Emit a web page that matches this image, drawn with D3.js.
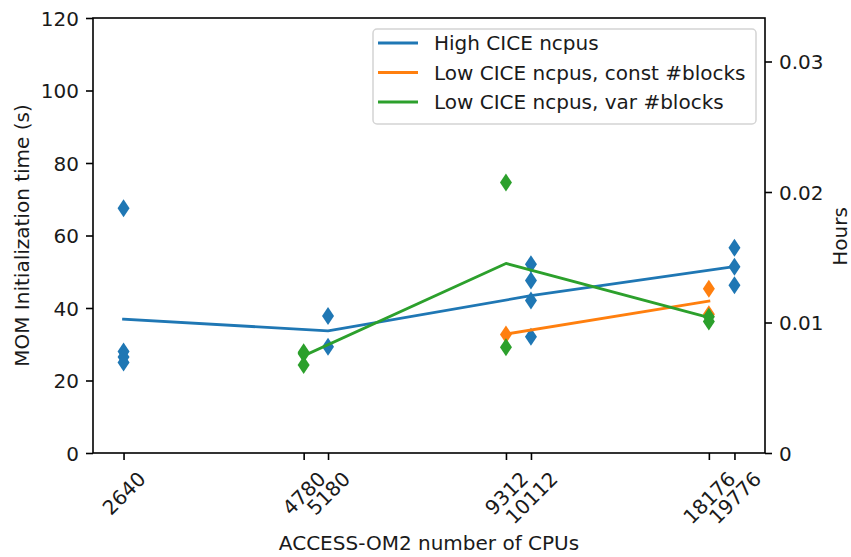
<!DOCTYPE html>
<html>
<head>
<meta charset="utf-8">
<script src="https://cdn.jsdelivr.net/npm/d3@7"></script>
<style>
  html, body { margin: 0; padding: 0; background: #fff; }
  svg { display: block; font-family: "DejaVu Sans", sans-serif; }
</style>
</head>
<body>
<svg id="chart" width="851" height="557"></svg>
<script>
// ---- data ----
const cpuTicks = [2640, 4780, 5180, 9312, 10112, 18176, 19776];
const yTicks = [0, 20, 40, 60, 80, 100, 120];
const hourTicks = [0, 0.01, 0.02, 0.03];
const hourTickLabels = ["0", "0.01", "0.02", "0.03"];

const seriesNames = ["High CICE ncpus", "Low CICE ncpus, const #blocks", "Low CICE ncpus, var #blocks"];
const seriesColors = ["#1f77b4", "#ff7f0e", "#2ca02c"];

const highX = [2640, 5180, 10112, 19776];
const highMean = [36.9, 33.7, 43.4, 51.4];
const highPts = [[67.5, 28.0, 26.5, 25.0], [37.8, 29.3], [52.1, 47.6, 42.1, 32.1], [56.6, 51.4, 46.3]];

const constX = [9312, 18176];
const constMean = [32.8, 41.9];
const constPts = [[32.7], [45.3, 38.3]];

const varX = [4780, 9312, 18176];
const varMean = [26.8, 52.3, 37.4];
const varPts = [[27.8, 27.4, 24.3], [74.6, 29.2], [37.6, 36.3]];

const series = [
  { name: seriesNames[0], color: seriesColors[0], x: highX, mean: highMean, pts: highPts },
  { name: seriesNames[1], color: seriesColors[1], x: constX, mean: constMean, pts: constPts },
  { name: seriesNames[2], color: seriesColors[2], x: varX, mean: varMean, pts: varPts }
];

// ---- layout ----
const L = 93, R = 765, T = 18, B = 453;
const FS = 20;
const svg = d3.select("#chart");

const lo = Math.log10(d3.min(cpuTicks)), hi = Math.log10(d3.max(cpuTicks));
const pad = (hi - lo) * 0.05;
const x = d3.scaleLog().domain([Math.pow(10, lo - pad), Math.pow(10, hi + pad)]).range([L, R]);
const y = d3.scaleLinear().domain([0, 120]).range([B, T]);
const yH = d3.scaleLinear().domain([0, 120 / 3600]).range([B, T]);

// ---- series ----
const line = d3.line().x(d => x(d[0])).y(d => y(d[1]));
const diamond = (cx, cy) => {
  const hw = 6, hh = 9;
  return `M${cx},${cy - hh}L${cx + hw},${cy}L${cx},${cy + hh}L${cx - hw},${cy}Z`;
};
series.forEach(s => {
  svg.append("path")
    .attr("d", line(s.x.map((v, i) => [v, s.mean[i]])))
    .attr("fill", "none").attr("stroke", s.color).attr("stroke-width", 2.8)
    .attr("stroke-linejoin", "round").attr("stroke-linecap", "square");
  const pts = [];
  s.x.forEach((v, i) => s.pts[i].forEach(p => pts.push([v, p])));
  svg.append("g").selectAll("path").data(pts).join("path")
    .attr("d", d => diamond(x(d[0]), y(d[1])))
    .attr("fill", s.color);
});

// ---- axes ----
const xAxis = d3.axisBottom(x).tickValues(cpuTicks).tickFormat(d3.format("d")).tickSize(7).tickPadding(7);
const gx = svg.append("g").attr("transform", `translate(0,${B})`).call(xAxis);
gx.select(".domain").remove();
gx.selectAll(".tick line").attr("stroke", "#000").attr("stroke-width", 1.6);
gx.selectAll(".tick text").each(function () {
  const t = d3.select(this);
  t.attr("font-size", FS).attr("font-family", "DejaVu Sans").attr("fill", "#1a1a1a");
  const w = this.getComputedTextLength();
  const h = FS * 1.165;
  const cy = 14 + (w + h) * Math.SQRT1_2 / 2;
  t.attr("y", null).attr("dy", "0.35em").attr("text-anchor", "middle")
    .attr("transform", `translate(0,${cy}) rotate(-45)`);
});

const yAxis = d3.axisLeft(y).tickValues(yTicks).tickSize(7).tickPadding(7);
const gy = svg.append("g").attr("transform", `translate(${L},0)`).call(yAxis);
gy.select(".domain").remove();
gy.selectAll(".tick line").attr("stroke", "#000").attr("stroke-width", 1.6);
gy.selectAll(".tick text").attr("font-size", FS).attr("font-family", "DejaVu Sans").attr("fill", "#1a1a1a").attr("dy", "0.35em");

const yAxisR = d3.axisRight(yH).tickValues(hourTicks).tickFormat((d, i) => hourTickLabels[i]).tickSize(7).tickPadding(7);
const gyr = svg.append("g").attr("transform", `translate(${R},0)`).call(yAxisR);
gyr.select(".domain").remove();
gyr.selectAll(".tick line").attr("stroke", "#000").attr("stroke-width", 1.6);
gyr.selectAll(".tick text").attr("font-size", FS).attr("font-family", "DejaVu Sans").attr("fill", "#1a1a1a").attr("dy", "0.35em");

// spines
svg.append("rect").attr("x", L).attr("y", T).attr("width", R - L).attr("height", B - T)
  .attr("fill", "none").attr("stroke", "#000").attr("stroke-width", 1.6);

// axis labels
svg.append("text").attr("x", (L + R) / 2).attr("y", 550).attr("text-anchor", "middle")
  .attr("font-size", FS).attr("fill", "#1a1a1a").text("ACCESS-OM2 number of CPUs");
svg.append("text").attr("transform", `translate(28.5,${(T + B) / 2}) rotate(-90)`).attr("text-anchor", "middle")
  .attr("font-size", FS).attr("fill", "#1a1a1a").text("MOM Initialization time (s)");
svg.append("text").attr("transform", `translate(847,${(T + B) / 2 + 1}) rotate(-90)`).attr("text-anchor", "middle")
  .attr("font-size", FS).attr("fill", "#1a1a1a").text("Hours");

// legend
const lg = svg.append("g");
lg.append("rect").attr("x", 373).attr("y", 29).attr("width", 383).attr("height", 95).attr("rx", 4)
  .attr("fill", "#fff").attr("fill-opacity", 0.8).attr("stroke", "#d4d4d4").attr("stroke-width", 1.5);
series.forEach((s, i) => {
  const cy = 43 + i * 29.5;
  lg.append("line").attr("x1", 378).attr("x2", 418).attr("y1", cy).attr("y2", cy)
    .attr("stroke", s.color).attr("stroke-width", 2.8);
  lg.append("text").attr("x", 434).attr("y", cy).attr("dy", "0.36em").attr("font-size", FS)
    .attr("fill", "#1a1a1a").text(s.name);
});
</script>
</body>
</html>
